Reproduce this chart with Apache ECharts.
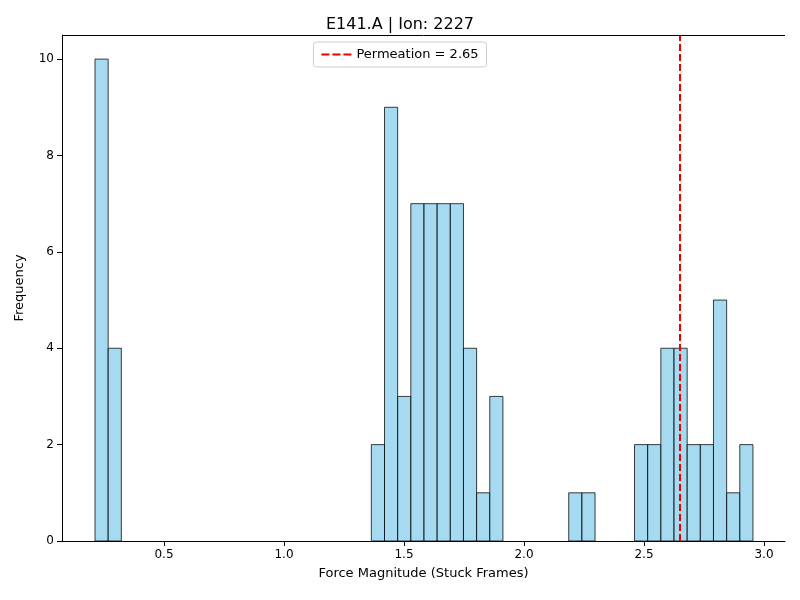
<!DOCTYPE html><html><head><meta charset="utf-8"><script src="https://cdn.jsdelivr.net/npm/echarts@6/dist/echarts.min.js"></script></head><body style="margin:0"><div id="c" style="width:800px;height:600px"></div><script>
const binStart = 0.2125, binWidth = 0.05483;
const counts = [10,4,0,0,0,0,0,0,0,0,0,0,0,0,0,0,0,0,0,0,0,2,9,3,7,7,7,7,4,1,3,0,0,0,0,0,1,1,0,0,0,2,2,4,4,2,2,5,1,2];
const xTicks = [0.5,1.0,1.5,2.0,2.5,3.0];
const yTicks = [0,2,4,6,8,10];
const permeation = 2.65;
const data = counts.map((c,i)=>[binStart+i*binWidth, binStart+(i+1)*binWidth, c]).filter(d=>d[2]>0);
const ch = echarts.init(document.getElementById('c'));
const font = 'DejaVu Sans';
ch.setOption({
  textStyle:{fontFamily:font},
  title:{text:'E141.A | Ion: 2227',left:'center',top:12,textStyle:{fontFamily:font,fontWeight:'normal',fontSize:16,color:'#000'}},
  legend:{top:42,left:'center',data:[{name:'Permeation = '+permeation,icon:'path://M0,0H8V2H0Z M11,0H19V2H11Z M22,0H30V2H22Z',itemStyle:{color:'#e00'}}],itemWidth:30,itemHeight:3,itemGap:8,textStyle:{fontSize:13,color:'#000'},borderColor:'#ccc',borderWidth:1,borderRadius:3,padding:[6,8]},
  grid:{left:62,right:15,top:35,bottom:59},
  xAxis:{type:'value',min:0.075,max:3.0875,name:'Force Magnitude (Stuck Frames)',nameLocation:'middle',nameGap:26,nameTextStyle:{fontSize:13,color:'#000'},
    axisLine:{onZero:false,lineStyle:{color:'#000'}},splitLine:{show:false},
    axisTick:{customValues:xTicks,lineStyle:{color:'#000'}},
    axisLabel:{customValues:xTicks,color:'#000',fontSize:12,formatter:v=>v.toFixed(1)}},
  yAxis:{type:'value',min:0,max:10.5,name:'Frequency',nameLocation:'middle',nameGap:36,nameTextStyle:{fontSize:13,color:'#000'},
    axisLine:{show:true,lineStyle:{color:'#000'}},splitLine:{show:false},
    axisTick:{show:true,customValues:yTicks,lineStyle:{color:'#000'}},
    axisLabel:{customValues:yTicks,color:'#000',fontSize:12}},
  series:[
    {type:'custom',data:data,renderItem:(p,api)=>{
      const a=api.coord([api.value(0),api.value(2)]), b=api.coord([api.value(1),0]);
      return {type:'rect',shape:{x:a[0],y:a[1],width:b[0]-a[0],height:b[1]-a[1]},style:{fill:'rgba(135,206,235,0.75)',stroke:'rgba(0,0,0,0.75)',lineWidth:1}};
    },encode:{x:[0,1],y:2},silent:true},
    {type:'line',name:'Permeation = '+permeation,data:[],symbol:'none',lineStyle:{color:'#e00',type:'dashed',width:2},itemStyle:{color:'#e00'},
     markLine:{silent:true,symbol:'none',label:{show:false},lineStyle:{color:'#e00',type:[7,3],width:2},data:[{xAxis:permeation}]}},
    {type:'line',data:[],markLine:{silent:true,symbol:'none',label:{show:false},lineStyle:{color:'#000',type:'solid',width:1},data:[{yAxis:10.5},{xAxis:3.0875}]}}
  ]
});
</script></body></html>
